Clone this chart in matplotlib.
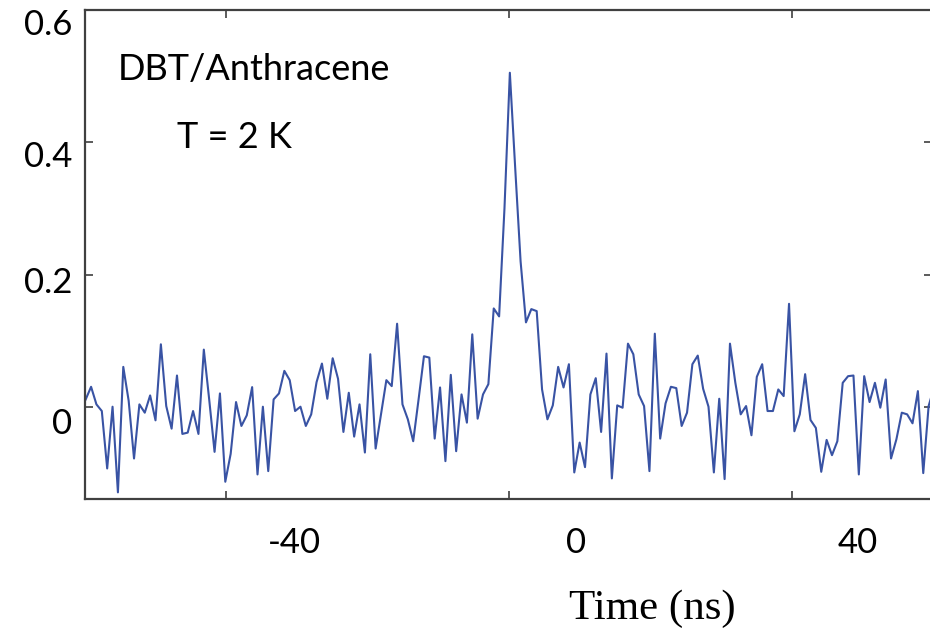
import matplotlib
matplotlib.use("Agg")
import matplotlib.pyplot as plt
import numpy as np

# g2 trace (one value per time bin)
g2 = [0.012, 0.031, 0.0045, -0.0055, -0.092, 0.001, -0.128, 0.061, 0.010, -0.077,
      0.0045, -0.008, 0.018, -0.0195, 0.095, 0.002, -0.032, 0.048, -0.040, -0.038,
      -0.0055, -0.040, 0.087, 0.012, -0.067, 0.021, -0.112, -0.070, 0.008, -0.028,
      -0.012, 0.0305, -0.101, 0.001, -0.096, 0.012, 0.021, 0.055, 0.041, -0.0055,
      0.001, -0.028, -0.0105, 0.038, 0.066, 0.013, 0.074, 0.043, -0.037, 0.022,
      -0.044, 0.0045, -0.068, 0.080, -0.062, -0.010, 0.041, 0.032, 0.126, 0.0045,
      -0.018, -0.051, 0.012, 0.077, 0.075, -0.047, 0.030, -0.081, 0.049, -0.066,
      0.0195, -0.023, 0.110, -0.017, 0.0195, 0.035, 0.149, 0.137, 0.30, 0.504,
      0.36, 0.22, 0.128, 0.148, 0.145, 0.027, -0.018, 0.003, 0.061, 0.030,
      0.065, -0.098, -0.053, -0.090, 0.0195, 0.044, -0.037, 0.081, -0.107, 0.003,
      -0.0005, 0.096, 0.080, 0.0195, 0.002, -0.096, 0.111, -0.047, 0.006, 0.031,
      0.029, -0.028, -0.008, 0.065, 0.078, 0.028, 0.001, -0.098, 0.013, -0.108,
      0.096, 0.037, -0.0105, 0.002, -0.042, 0.046, 0.065, -0.0055, -0.0055, 0.027,
      0.017, 0.156, -0.036, -0.0105, 0.050, -0.019, -0.031, -0.097, -0.049, -0.072,
      -0.051, 0.037, 0.047, 0.048, -0.101, 0.047, 0.008, 0.037, -0.0005, 0.042,
      -0.077, -0.048, -0.008, -0.0105, -0.024, 0.0245, -0.099, 0.002, 0.030]

t_start = -69.55   # ns
t_step = 0.7616    # ns per bin
time = t_start + t_step * np.arange(len(g2))

# labels as printed, and where the tick marks actually sit
xtick_labels = ['-40', '0', '40']
xtick_label_pos = [-40, 0, 40]
xtick_marks = [-49.6, -9.5, 30.6]
ytick_labels = ['0.6', '0.4', '0.2', '0']
ytick_label_pos = [0.580, 0.382, 0.1925, -0.021]
ytick_marks = [0.0, 0.2, 0.4]

sans = ['Lato', 'DejaVu Sans']
line_col = '#3953a4'
frame_col = '#404040'

fig = plt.figure(figsize=(9.3, 6.32), dpi=100)
ax = fig.add_axes([85/930, 1 - 499/632, 847/930, 489/632])

ax.plot(time, g2, color=line_col, lw=1.5)

ax.set_xlim(-69.65, 50.5)
ax.set_ylim(-0.138, 0.5985)

ax.set_xticks(xtick_label_pos, xtick_labels)
ax.set_xticks(xtick_marks, minor=True)
ax.set_yticks(ytick_label_pos, ytick_labels)
ax.set_yticks(ytick_marks, minor=True)

ax.tick_params(which='major', length=0, labelsize=25, colors='black')
ax.tick_params(axis='x', which='major', pad=20)
ax.tick_params(axis='y', which='major', pad=9)
ax.tick_params(which='minor', direction='in', length=6, width=1.2,
               color=frame_col, top=True, right=True)
for lab in ax.get_xticklabels() + ax.get_yticklabels():
    lab.set_family(sans)

for sp in ax.spines.values():
    sp.set_color(frame_col)
    sp.set_linewidth(1.6)

ax.set_xlabel('Time (ns)', family=['Liberation Serif', 'DejaVu Serif'],
              fontsize=31, va='baseline')
ax.xaxis.set_label_coords((652 - 85) / 847, (499 - 619) / 489)

fig.text(118/930, 1 - 80/632, 'DBT/Anthracene', family=sans, fontsize=26,
         va='baseline', ha='left')
fig.text(177/930, 1 - 148/632, 'T = 2 K', family=sans, fontsize=26,
         va='baseline', ha='left')

fig.savefig('out.png', dpi=100)
